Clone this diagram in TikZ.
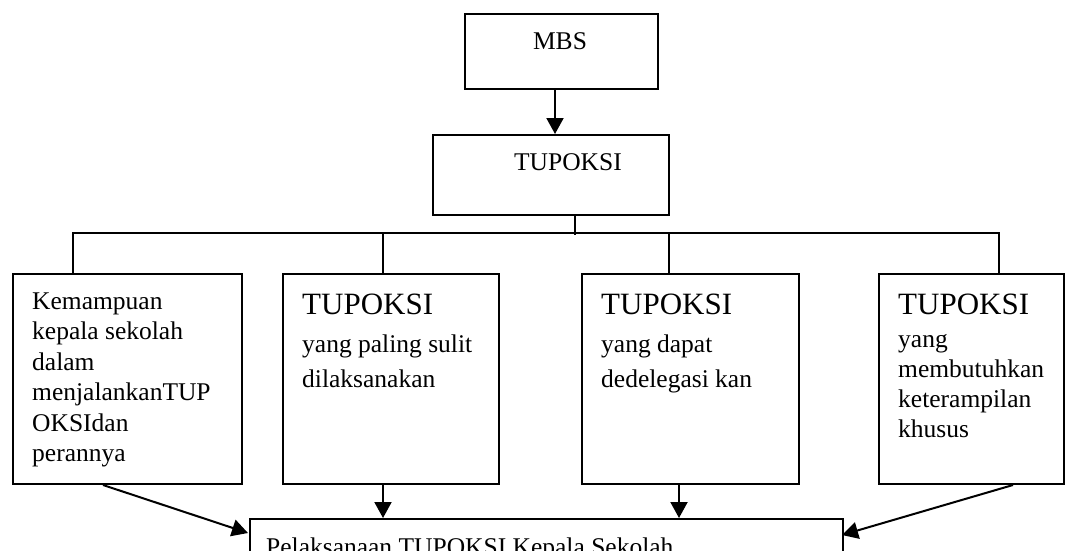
\documentclass[tikz,border=0pt]{standalone}
\usepackage{fontspec}
\setmainfont{Liberation Serif}
\usetikzlibrary{arrows.meta,calc}
\begin{document}
\begin{tikzpicture}[x=1pt,y=-1pt,
  box/.style={draw,line width=2pt,rectangle,inner sep=0pt,anchor=north west},
  txt/.style={anchor=base west,inner sep=0pt,font=\fontsize{25.5}{30.5}\selectfont,align=left},
  txtb/.style={anchor=base west,inner sep=0pt,font=\fontsize{25.5}{35}\selectfont,align=left},
  txtc/.style={anchor=base west,inner sep=0pt,font=\fontsize{25.5}{30}\selectfont,align=left},
  big/.style={anchor=base west,inner sep=0pt,font=\fontsize{31}{35}\selectfont},
  ctxt/.style={anchor=base,inner sep=0pt,font=\fontsize{25.5}{30.5}\selectfont},
  conn/.style={line width=2pt},
  arr/.style={line width=2pt,-{Triangle[length=16pt,width=17pt]}}]
\useasboundingbox (0,0) rectangle (1079,551);
\clip (0,0) rectangle (1079,551);
% boxes
\node[box,minimum width=193pt,minimum height=75pt] (mbs) at (464,13) {};
\node[box,minimum width=236pt,minimum height=80pt] (tup) at (432,134) {};
\node[box,minimum width=229pt,minimum height=210pt] (b1) at (12,273) {};
\node[box,minimum width=216pt,minimum height=210pt] (b2) at (282,273) {};
\node[box,minimum width=217pt,minimum height=210pt] (b3) at (581,273) {};
\node[box,minimum width=185pt,minimum height=210pt] (b4) at (878,273) {};
\node[box,minimum width=593pt,minimum height=70pt] (pel) at (249,518) {};
% texts (anchored at the baseline of their last line)
\node[ctxt] (tmbs) at (560,49) {MBS};
\node[ctxt] (ttup) at (568,170) {TUPOKSI};
\node[txt] (t1) at (32,461.5) {Kemampuan\\kepala sekolah\\dalam\\menjalankanTUP\\OKSIdan\\perannya};
\node[big] (t2a) at (302,314) {TUPOKSI};
\node[txtb] (t2b) at (302,387) {yang paling sulit\\dilaksanakan};
\node[big] (t3a) at (601,314) {TUPOKSI};
\node[txtb] (t3b) at (601,387) {yang dapat\\dedelegasi kan};
\node[big] (t4a) at (898,314) {TUPOKSI};
\node[txtc] (t4b) at (898,437) {yang\\membutuhkan\\keterampilan\\khusus};
\node[txt] (tpel) at (266,555) {Pelaksanaan TUPOKSI Kepala Sekolah};
% connectors
\draw[arr] ($(mbs.south west)+(91,0)$) -- ($(tup.north west)+(123,0)$);
\draw[conn] ($(tup.south west)+(143,0)$) -- ++(0,19);
\draw[conn] ($(b1.north west)+(61,0)$) |- ($(b4.north west)+(121,-40)$) -- ($(b4.north west)+(121,0)$);
\draw[conn] ($(b2.north west)+(101,0)$) -- ++(0,-40);
\draw[conn] ($(b3.north west)+(88,0)$) -- ++(0,-40);
\draw[arr] ($(b1.south west)+(91,0)$) -- ($(pel.north west)+(-1,15)$);
\draw[arr] ($(b2.south west)+(101,0)$) -- ($(pel.north west)+(134,0)$);
\draw[arr] ($(b3.south west)+(98,0)$) -- ($(pel.north west)+(430,0)$);
\draw[arr] ($(b4.south west)+(135,0)$) -- ($(pel.north east)+(-2,17)$);
\end{tikzpicture}
\end{document}
